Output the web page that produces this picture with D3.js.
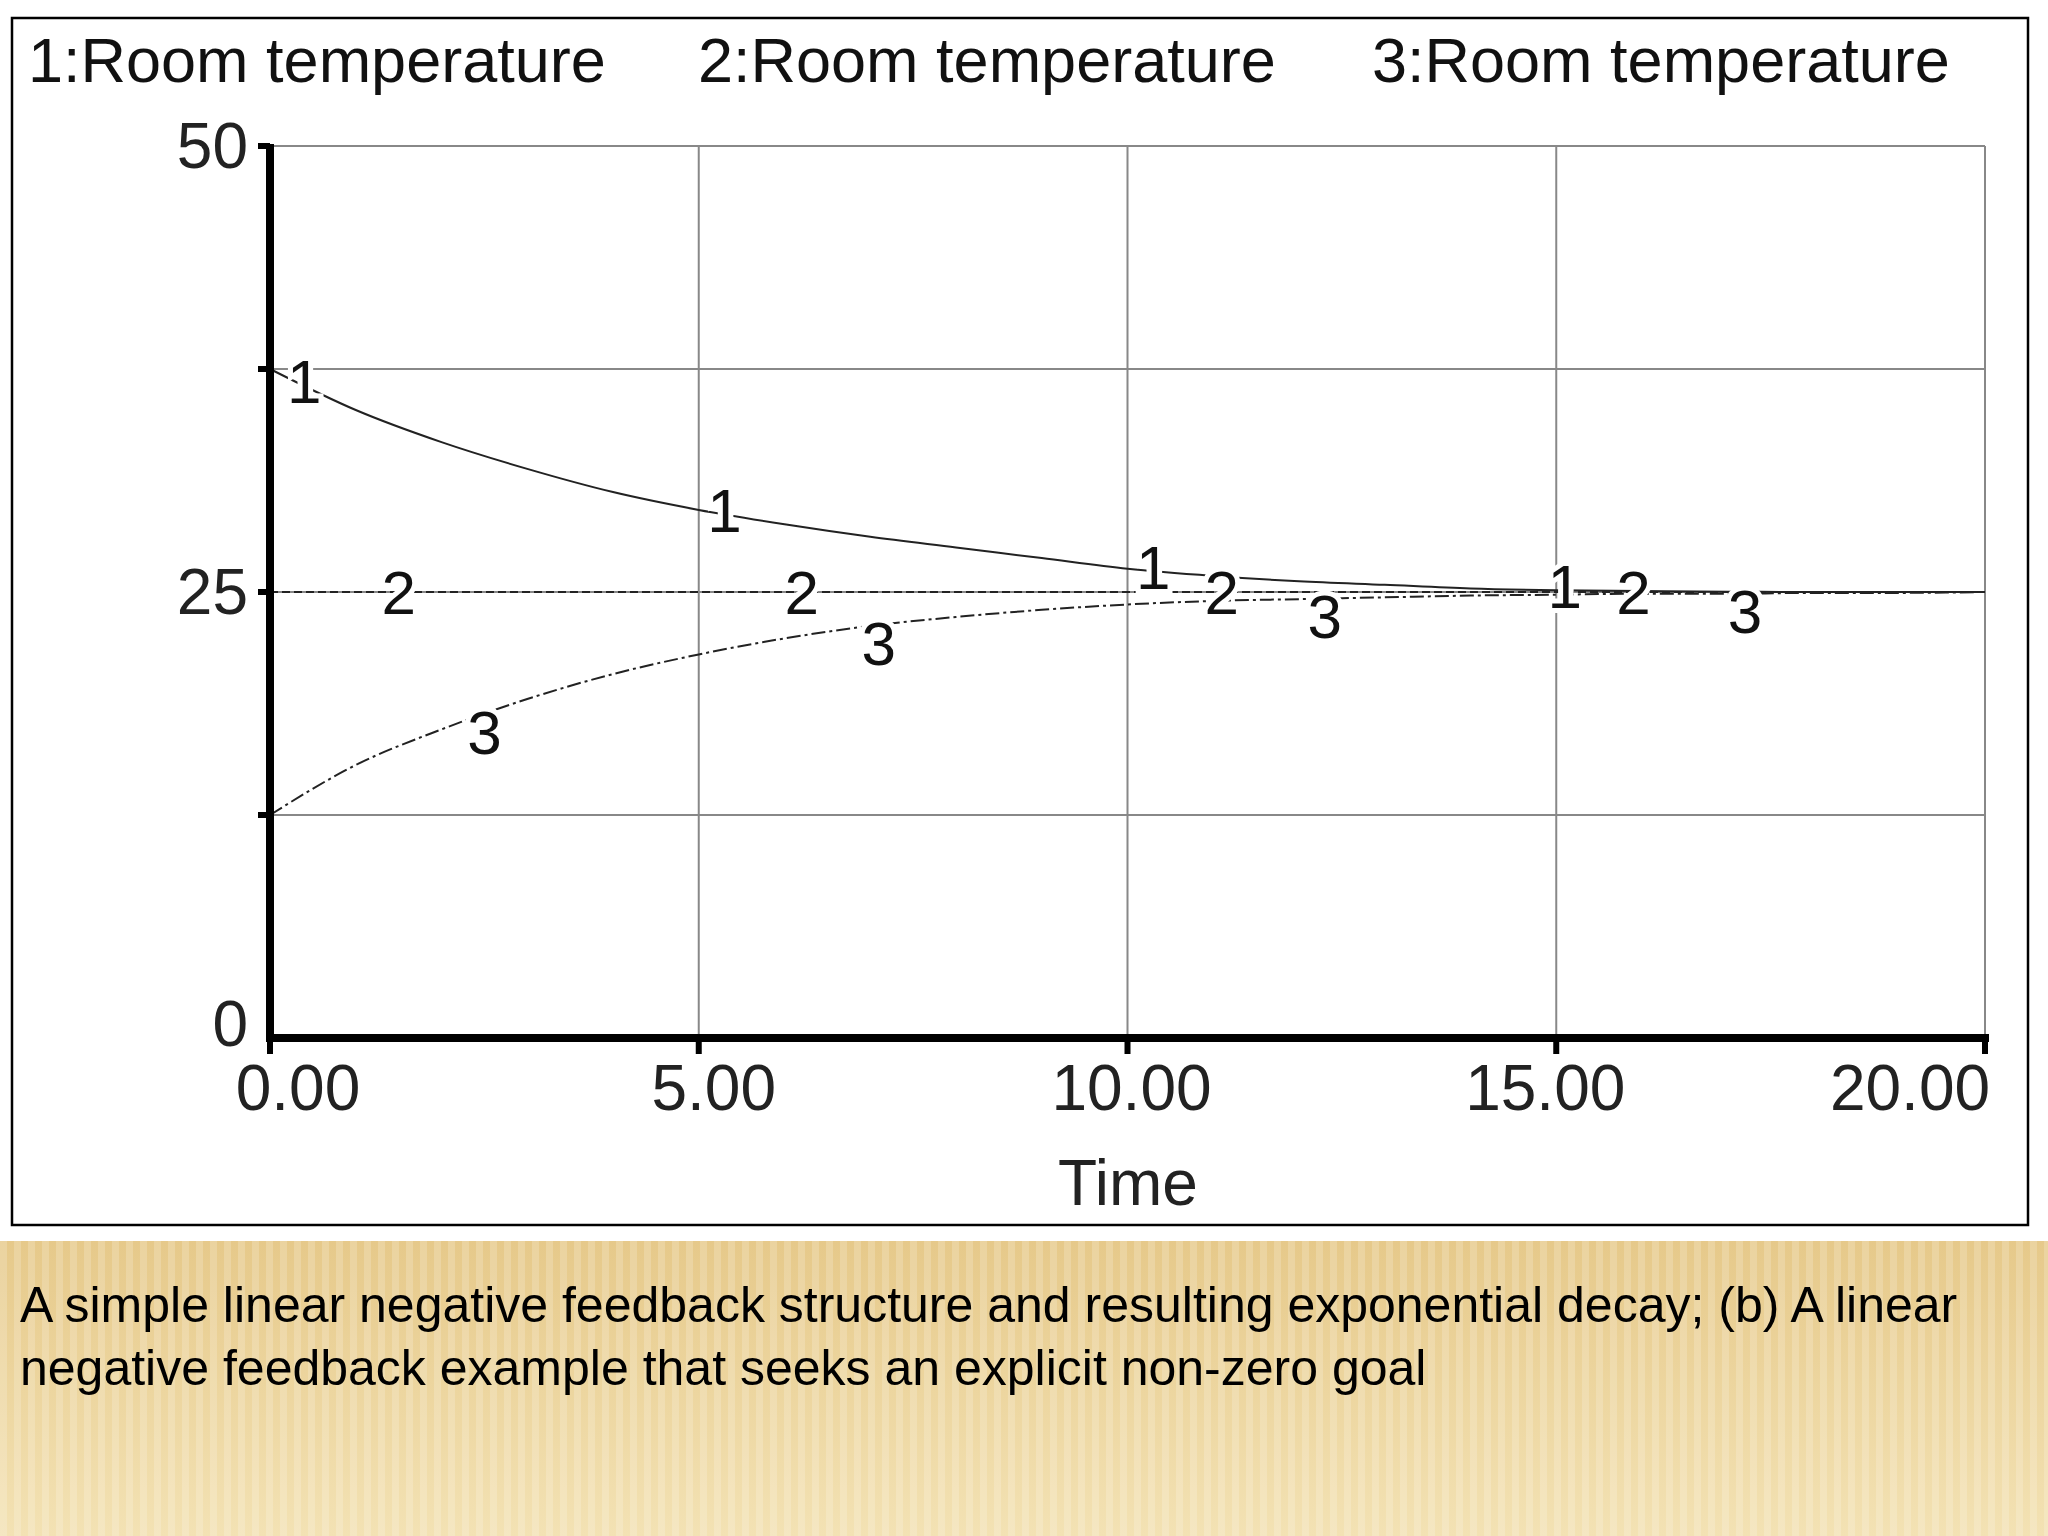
<!DOCTYPE html>
<html><head><meta charset="utf-8">
<script src="https://cdn.jsdelivr.net/npm/d3@7"></script>
<style>body{margin:0;background:#fff}</style>
</head><body>
<script>
// data
var times = [0,1,2,3,4,5,6,7,8,9,10,11,12,13,14,15,16,17,18,19,20];
var room1 = [37.5,35.2,33.4,31.9,30.6,29.6,28.8,28.1,27.5,26.9,26.3,25.9,25.6,25.4,25.2,25.1,25.05,25.02,25,25,25];
var room2 = [25,25,25,25,25,25,25,25,25,25,25,25,25,25,25,25,25,25,25,25,25];
var room3 = [12.5,15.3,17.3,19.0,20.4,21.5,22.4,23.1,23.6,24.0,24.3,24.5,24.6,24.7,24.8,24.85,24.9,24.9,24.95,24.95,25];
var legendLabels = ["1:Room temperature","2:Room temperature","3:Room temperature"];
var xTicks = [0,5,10,15,20];
var xTickShift = [28,15,4,-11,-75];
var yTickLabels = [0,25,50];
var labelTimes = [[0.4,5.3,10.3,15.1],[1.5,6.2,11.1,15.9],[2.5,7.1,12.3,17.2]];
var caption = ["A simple linear negative feedback structure and resulting exponential decay; (b) A linear",
               "negative feedback example that seeks an explicit non-zero goal"];

var svg = d3.select("body").append("svg").attr("width",2048).attr("height",1536);
var defs = svg.append("defs");
var grad = defs.append("linearGradient").attr("id","gold").attr("x1",0).attr("y1",0).attr("x2",0).attr("y2",1);
grad.append("stop").attr("offset",0).attr("stop-color","#e6c98a");
grad.append("stop").attr("offset",1).attr("stop-color","#f3e2b4");
var pat = defs.append("pattern").attr("id","stripes").attr("width",14).attr("height",40).attr("patternUnits","userSpaceOnUse");
pat.append("rect").attr("width",7).attr("height",40).attr("fill","rgba(255,255,255,0.18)");
svg.append("rect").attr("x",0).attr("y",1241).attr("width",2048).attr("height",295).attr("fill","url(#gold)");
svg.append("rect").attr("x",0).attr("y",1241).attr("width",2048).attr("height",295).attr("fill","url(#stripes)");

svg.append("rect").attr("x",12).attr("y",18).attr("width",2016).attr("height",1207)
  .attr("fill","#fff").attr("stroke","#000").attr("stroke-width",2.5);

var x = d3.scaleLinear().domain([0,20]).range([270,1985]);
var y = d3.scaleLinear().domain([0,50]).range([1038,146]);
var font = "Liberation Sans, Arial, sans-serif";

// grid
var g = svg.append("g").attr("stroke","#888").attr("stroke-width",2);
[5,10,15,20].forEach(function(t){ g.append("line").attr("x1",x(t)).attr("x2",x(t)).attr("y1",y(50)).attr("y2",y(0)); });
[12.5,25,37.5,50].forEach(function(v){ g.append("line").attr("x1",x(0)).attr("x2",x(20)).attr("y1",y(v)).attr("y2",y(v)); });

// series
var series = [room1,room2,room3];
var dashes = [null,"8,4","14,4,3,4"];
series.forEach(function(s,i){
  var line = d3.line().x(function(d,j){return x(times[j]);}).y(function(d){return y(d);}).curve(d3.curveMonotoneX);
  svg.append("path").datum(s).attr("d",line).attr("fill","none").attr("stroke","#222")
    .attr("stroke-width",2).attr("stroke-dasharray",dashes[i]);
});
// inline numerals
series.forEach(function(s,i){
  labelTimes[i].forEach(function(t){
    var v = s[Math.floor(t)] + (s[Math.min(20,Math.floor(t)+1)] - s[Math.floor(t)])*(t-Math.floor(t));
    svg.append("text").attr("x",x(t)).attr("y",y(v)+ (i==0?-4:(i==2?18:0))).attr("dy","0.35em")
      .attr("text-anchor","middle").attr("font-family",font).attr("font-size",62)
      .attr("paint-order","stroke").attr("stroke","#fff").attr("stroke-width",10)
      .attr("fill","#111").text(i+1);
  });
});

// axes
svg.append("line").attr("x1",x(0)).attr("x2",x(0)).attr("y1",y(50)-2).attr("y2",y(0)+4).attr("stroke","#000").attr("stroke-width",8);
svg.append("line").attr("x1",x(0)-4).attr("x2",x(20)+4).attr("y1",y(0)).attr("y2",y(0)).attr("stroke","#000").attr("stroke-width",8);
xTicks.forEach(function(t,i){
  svg.append("line").attr("x1",x(t)).attr("x2",x(t)).attr("y1",y(0)).attr("y2",y(0)+16).attr("stroke","#000").attr("stroke-width",6);
  svg.append("text").attr("x",x(t)+xTickShift[i]).attr("y",1110).attr("text-anchor","middle")
    .attr("font-family",font).attr("font-size",64).attr("fill","#222").text(d3.format(".2f")(t));
});
[12.5,25,37.5,50].forEach(function(v){
  svg.append("line").attr("x1",x(0)-12).attr("x2",x(0)).attr("y1",y(v)).attr("y2",y(v)).attr("stroke","#000").attr("stroke-width",6);
});
yTickLabels.forEach(function(v){
  svg.append("text").attr("x",x(0)-22).attr("y",y(v)+(v==0?-14:0)).attr("dy","0.35em").attr("text-anchor","end")
    .attr("font-family",font).attr("font-size",64).attr("fill","#222").text(v);
});
svg.append("text").attr("x",1128).attr("y",1205).attr("text-anchor","middle")
  .attr("font-family",font).attr("font-size",64).attr("fill","#222").text("Time");

// legend
var legX = [28,698,1372];
legendLabels.forEach(function(l,i){
  svg.append("text").attr("x",legX[i]).attr("y",82).attr("font-family",font).attr("font-size",63)
    .attr("fill","#111").text(l);
});

// caption
caption.forEach(function(c,i){
  svg.append("text").attr("x",20).attr("y",1322+i*63).attr("font-family",font).attr("font-size",50)
    .attr("fill","#000").text(c);
});
</script>
</body></html>
